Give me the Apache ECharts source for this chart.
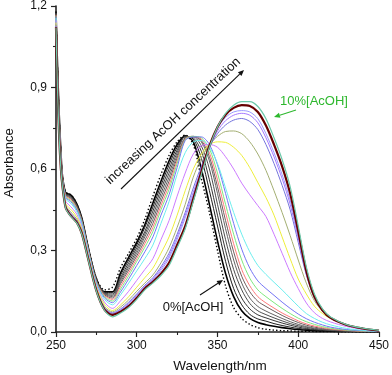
<!DOCTYPE html>
<html>
<head>
<meta charset="utf-8">
<script src="https://cdn.jsdelivr.net/npm/echarts@6.0.0/dist/echarts.min.js"></script>
<style>html,body{margin:0;padding:0;background:#fff}#c{width:392px;height:375px}</style>
</head>
<body>
<div id="c"></div>
<script>
const wavelength = [250,251,252,253,254,256,258,260,263,266,270,275,280,285,290,295,300,305,310,315,320,325,330,335,340,345,350,355,360,365,370,375,380,385,390,395,400,405,410,415,420,430,440,450];
const xTicks = [250,300,350,400,450];
const yTicks = [0,0.3,0.6,0.9,1.2];

const abs00 = [1.16,0.95,0.78,0.655,0.565,0.515,0.51,0.50,0.47,0.415,0.31,0.198,0.155, 0.165,0.237,0.29,0.345,0.415,0.50,0.58,0.65,0.70,0.725, 0.69,0.565,0.44,0.30,0.17,0.09,0.05,0.028,0.016,0.01,0.007,0.005,0.004,0.003,0.003,0.002,0.002,0.002,0.001,0.001,0.001];
const abs01 = [1.18,0.97,0.80,0.67,0.575,0.512,0.508,0.50,0.47,0.42,0.31,0.195,0.148, 0.148,0.218,0.275,0.33,0.395,0.475,0.555,0.63,0.69,0.722, 0.70,0.60,0.47,0.335,0.215,0.13,0.078,0.05,0.035,0.027,0.021,0.016,0.012,0.009,0.007,0.005,0.004,0.003,0.002,0.001,0.001];
const abs02 = [1.178,0.966,0.796,0.667,0.573,0.510,0.505,0.497,0.467,0.418,0.309,0.194,0.146, 0.145,0.21,0.265,0.32,0.385,0.46,0.54,0.615,0.68,0.72, 0.71,0.64,0.52,0.39,0.26,0.16,0.10,0.065,0.048,0.04,0.031,0.024,0.018,0.013,0.01,0.007,0.005,0.004,0.003,0.002,0.001];
const abs03 = [1.176,0.964,0.794,0.665,0.572,0.508,0.503,0.494,0.465,0.416,0.308,0.193,0.144, 0.14,0.20,0.255,0.31,0.37,0.445,0.525,0.60,0.67,0.72, 0.715,0.665,0.56,0.43,0.30,0.195,0.125,0.085,0.063,0.052,0.042,0.033,0.025,0.018,0.013,0.009,0.007,0.005,0.003,0.002,0.001];
const abs04 = [1.174,0.961,0.791,0.663,0.571,0.506,0.501,0.492,0.463,0.414,0.306,0.191,0.142, 0.135,0.193,0.245,0.30,0.36,0.43,0.51,0.585,0.66,0.718, 0.718,0.685,0.60,0.47,0.34,0.23,0.155,0.105,0.078,0.064,0.052,0.041,0.031,0.023,0.017,0.012,0.009,0.006,0.004,0.002,0.001];
const abs05 = [1.172,0.958,0.788,0.661,0.570,0.505,0.499,0.490,0.461,0.412,0.305,0.189,0.140, 0.13,0.185,0.237,0.29,0.35,0.415,0.495,0.57,0.65,0.715, 0.72,0.70,0.63,0.51,0.38,0.265,0.18,0.125,0.094,0.077,0.063,0.05,0.038,0.028,0.02,0.014,0.01,0.007,0.004,0.002,0.001];
const abs06 = [1.170,0.955,0.785,0.658,0.568,0.502,0.496,0.486,0.458,0.410,0.303,0.187,0.137, 0.125,0.178,0.228,0.28,0.337,0.40,0.48,0.555,0.64,0.713, 0.72,0.705,0.645,0.535,0.41,0.295,0.205,0.148,0.113,0.094,0.077,0.061,0.047,0.035,0.025,0.018,0.013,0.009,0.005,0.003,0.001];
const abs07 = [1.167,0.951,0.781,0.655,0.567,0.500,0.493,0.483,0.455,0.407,0.301,0.185,0.134, 0.12,0.168,0.218,0.27,0.325,0.385,0.465,0.54,0.63,0.71, 0.72,0.71,0.66,0.56,0.44,0.325,0.23,0.17,0.13,0.107,0.088,0.07,0.055,0.041,0.03,0.022,0.016,0.011,0.006,0.003,0.002];
const abs08 = [1.164,0.947,0.777,0.652,0.565,0.497,0.489,0.479,0.452,0.404,0.299,0.183,0.13, 0.114,0.158,0.207,0.26,0.312,0.37,0.45,0.525,0.62,0.708, 0.72,0.715,0.675,0.585,0.47,0.36,0.265,0.198,0.155,0.13,0.108,0.087,0.068,0.051,0.038,0.028,0.02,0.014,0.007,0.004,0.002];
const abs09 = [1.161,0.941,0.771,0.648,0.562,0.494,0.485,0.474,0.448,0.401,0.296,0.180,0.126, 0.108,0.148,0.195,0.245,0.295,0.35,0.43,0.505,0.605,0.705, 0.718,0.718,0.69,0.615,0.51,0.40,0.305,0.235,0.188,0.16,0.135,0.11,0.087,0.066,0.049,0.036,0.026,0.018,0.009,0.005,0.002];
const abs10 = [1.156,0.934,0.764,0.642,0.559,0.489,0.479,0.468,0.442,0.396,0.293,0.177,0.12, 0.10,0.137,0.18,0.225,0.27,0.32,0.40,0.48,0.58,0.66, 0.70,0.705,0.68,0.62,0.53,0.44,0.36,0.295,0.245,0.212,0.183,0.155,0.125,0.095,0.068,0.05,0.036,0.026,0.013,0.006,0.003];
const abs11 = [1.147,0.921,0.751,0.632,0.553,0.481,0.468,0.456,0.432,0.387,0.287,0.172,0.11, 0.087,0.115,0.15,0.19,0.23,0.27,0.34,0.41,0.50,0.585, 0.655,0.685,0.69,0.68,0.645,0.60,0.548,0.505,0.465,0.425,0.36,0.29,0.22,0.16,0.107,0.071,0.05,0.037,0.02,0.01,0.004];
const abs12 = [1.139,0.909,0.739,0.622,0.548,0.473,0.458,0.446,0.422,0.379,0.281,0.166,0.102, 0.079,0.10,0.13,0.165,0.20,0.235,0.29,0.35,0.43,0.52, 0.60,0.655,0.69,0.70,0.698,0.68,0.65,0.605,0.55,0.495,0.43,0.35,0.27,0.195,0.14,0.095,0.068,0.05,0.027,0.013,0.005];
const abs13 = [1.132,0.898,0.728,0.614,0.543,0.466,0.450,0.436,0.414,0.372,0.275,0.160,0.094, 0.074,0.092,0.118,0.15,0.18,0.21,0.255,0.31,0.385,0.47, 0.57,0.64,0.69,0.72,0.738,0.74,0.73,0.70,0.655,0.595,0.52,0.44,0.355,0.265,0.18,0.115,0.077,0.053,0.027,0.013,0.005];
const abs14 = [1.128,0.892,0.722,0.609,0.540,0.462,0.444,0.430,0.409,0.368,0.272,0.157,0.089, 0.07,0.085,0.11,0.14,0.172,0.20,0.24,0.29,0.36,0.44, 0.53,0.61,0.68,0.73,0.762,0.78,0.786,0.775,0.745,0.69,0.62,0.54,0.45,0.33,0.21,0.125,0.078,0.051,0.026,0.013,0.005];
const abs15 = [1.125,0.887,0.717,0.606,0.538,0.460,0.441,0.426,0.406,0.365,0.269,0.154,0.086, 0.068,0.082,0.105,0.135,0.168,0.195,0.233,0.28,0.35,0.43, 0.515,0.60,0.68,0.74,0.778,0.798,0.805,0.798,0.77,0.715,0.645,0.565,0.47,0.345,0.215,0.127,0.079,0.051,0.026,0.013,0.005];
const abs16 = [1.123,0.885,0.715,0.604,0.537,0.458,0.439,0.424,0.404,0.363,0.268,0.153,0.084, 0.066,0.08,0.10,0.13,0.164,0.19,0.226,0.272,0.34,0.42, 0.505,0.595,0.685,0.75,0.79,0.81,0.815,0.81,0.785,0.73,0.66,0.58,0.485,0.355,0.218,0.128,0.079,0.051,0.026,0.013,0.005];
const abs17 = [1.122,0.883,0.713,0.602,0.536,0.457,0.437,0.422,0.402,0.362,0.267,0.152,0.082, 0.063,0.075,0.095,0.125,0.16,0.185,0.215,0.255,0.32,0.39, 0.49,0.59,0.685,0.755,0.80,0.825,0.835,0.832,0.81,0.76,0.69,0.61,0.51,0.37,0.225,0.13,0.08,0.052,0.026,0.013,0.005];
const abs18 = [1.12,0.88,0.71,0.60,0.535,0.455,0.435,0.42,0.40,0.36,0.265,0.15,0.08, 0.056,0.07,0.09,0.12,0.155,0.18,0.208,0.245,0.31,0.38, 0.48,0.58,0.68,0.755,0.805,0.835,0.848,0.848,0.83,0.785,0.715,0.635,0.535,0.39,0.24,0.14,0.085,0.055,0.027,0.014,0.006];

const curves = [abs00,abs01,abs02,abs03,abs04,abs05,abs06,abs07,abs08,abs09,abs10,abs11,abs12,abs13,abs14,abs15,abs16,abs17,abs18];
const colors = ['#000000','#000000','#1e1e1e','#353535','#4c4c4c','#636363','#6e5c5c','#ff7a7a','#7ee87e','#7474f4','#6ceeee','#cc7aff','#eeee3a','#a3ae72','#7474dc','#a478ff','#9a9aff','#660000','#6cc9aa'];
const widths = [1.4,1.6,1,1,1,1,1,1,1,1,1,1,1,1,1,1,1,2.2,1.2];

const FONT = '"Liberation Sans", Arial, sans-serif';
const chart = echarts.init(document.getElementById('c'), null, {renderer:'canvas'});

function arrow(x1,y1,x2,y2,color){
  const dx = x2-x1, dy = y2-y1, L = Math.sqrt(dx*dx+dy*dy);
  const ux = dx/L, uy = dy/L, px = -uy, py = ux;
  const hl = 6, hw = 2.6;
  const bx = x2-ux*hl, by = y2-uy*hl;
  return [
    {type:'line', shape:{x1:x1,y1:y1,x2:bx,y2:by}, style:{stroke:color, lineWidth:1.1}, silent:true},
    {type:'polygon', shape:{points:[[x2,y2],[bx+px*hw,by+py*hw],[bx-px*hw,by-py*hw]]}, style:{fill:color}, silent:true}
  ];
}
function txt(x,y,text,size,color,rot){
  return {type:'text', x:x, y:y, rotation:rot||0, silent:true,
    style:{text:text, font:size+'px '+FONT, fill:color, textAlign:'center', textVerticalAlign:'middle', align:'center', verticalAlign:'middle'}};
}

const graphics = [].concat(
  [txt(173,121,'increasing AcOH concentration',13,'#111',43*Math.PI/180)],
  arrow(121,189,244,70,'#111'),
  [txt(314,101,'10%[AcOH]',13,'#2eb82e',0)],
  arrow(296,110,274,117,'#2eb82e'),
  [txt(193,307,'0%[AcOH]',13,'#111',0)],
  arrow(200,295,223,280,'#111'),
  [txt(9,163,'Absorbance',13,'#111',Math.PI/2)],
  [txt(220,366,'Wavelength/nm',13.5,'#111',0)]
);

const axisCommon = {
  axisLine:{show:true, lineStyle:{color:'#222', width:1.6}},
  axisTick:{show:true, inside:false, length:5, lineStyle:{color:'#222', width:1.2}},
  minorTick:{show:true, splitNumber:2, length:3, lineStyle:{color:'#222', width:1.1}},
  splitLine:{show:false},
  minorSplitLine:{show:false}
};

chart.setOption({
  animation:false,
  backgroundColor:'#fff',
  grid:{left:56, right:10, top:6, bottom:43, containLabel:false},
  xAxis: Object.assign({type:'value', min:xTicks[0], max:xTicks[xTicks.length-1], interval:xTicks[1]-xTicks[0],
    axisLabel:{show:true, margin:8, fontSize:12, fontFamily:FONT, color:'#111', formatter:(v)=>String(v)}}, axisCommon),
  yAxis: Object.assign({type:'value', min:yTicks[0], max:yTicks[yTicks.length-1], interval:yTicks[1]-yTicks[0],
    axisLabel:{show:true, margin:9, fontSize:12, fontFamily:FONT, color:'#111', formatter:(v)=>v.toFixed(1).replace('.',',')}}, axisCommon),
  series: curves.map((vals,i)=>({
    type:'line', name:'c'+i, data: wavelength.map((w,j)=>[w, vals[j]]),
    showSymbol:false, symbol:'none', smooth:0.3, silent:true,
    lineStyle:{color:colors[i], width:widths[i], type: i===0 ? [1.4,2.2] : 'solid'},
    z: 2
  })),
  graphic: graphics
});
</script>
</body>
</html>
